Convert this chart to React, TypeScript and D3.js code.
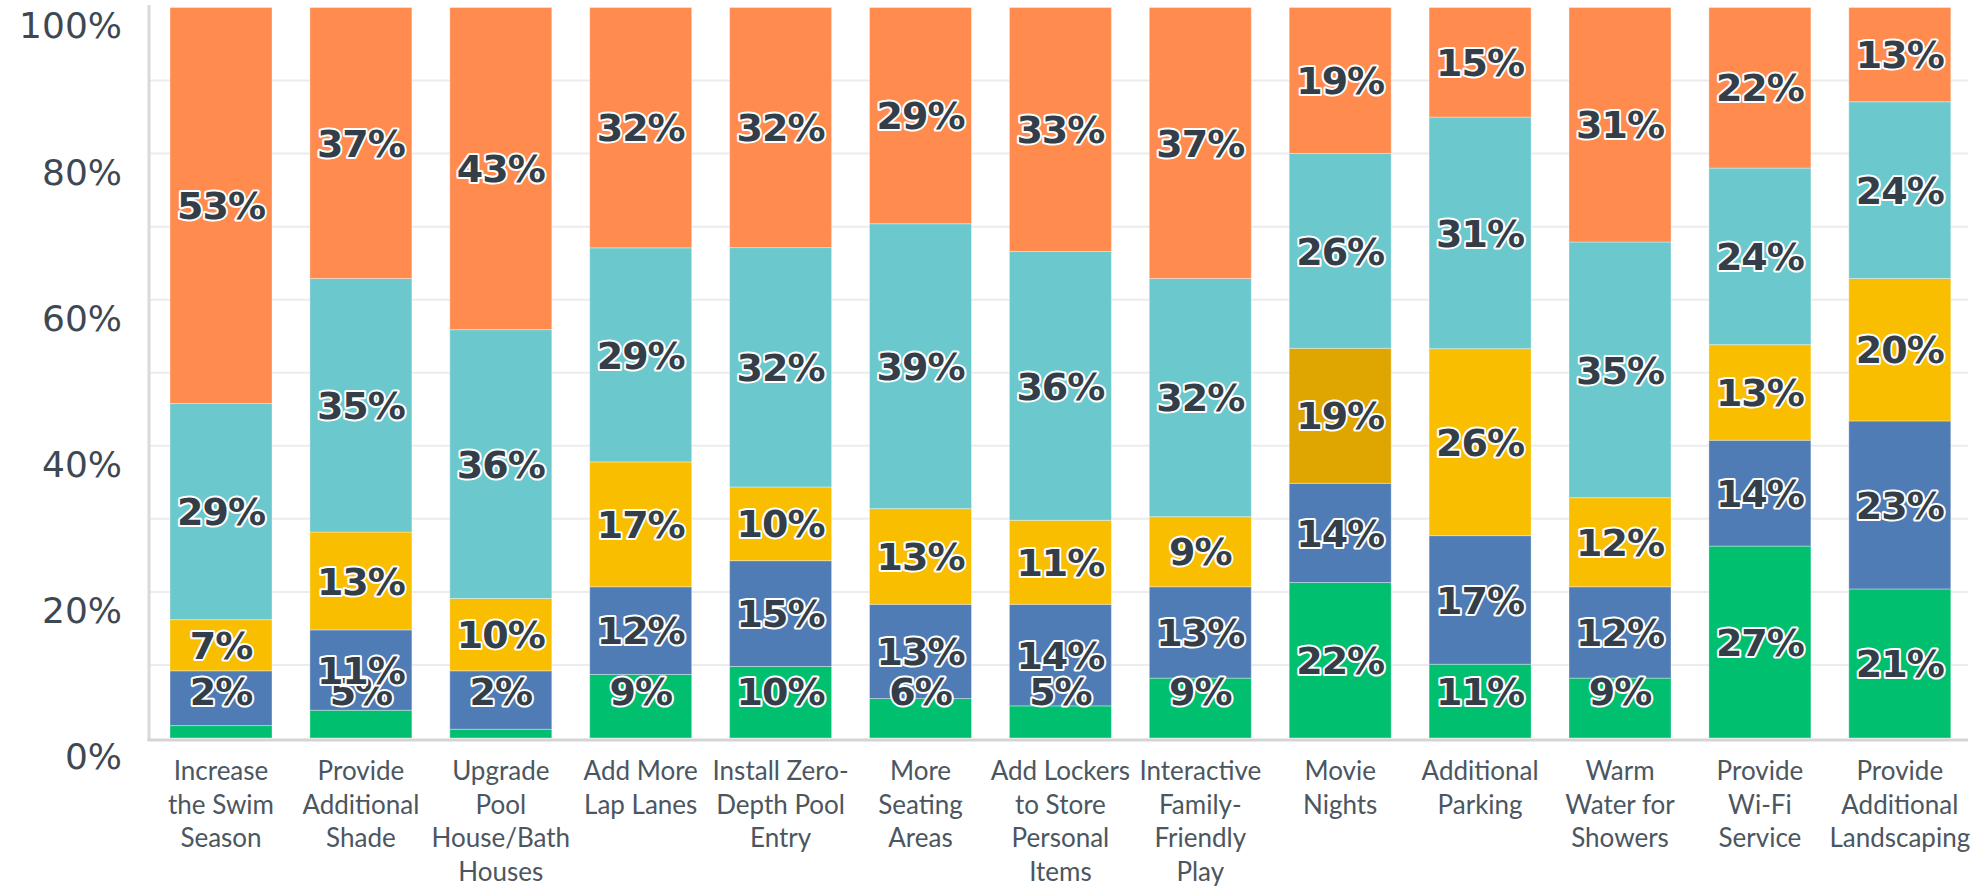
import React from "react";
import * as d3 from "d3";

const categories: string[] = [
  "Increase\nthe Swim\nSeason",
  "Provide\nAdditional\nShade",
  "Upgrade\nPool\nHouse/Bath\nHouses",
  "Add More\nLap Lanes",
  "Install Zero-\nDepth Pool\nEntry",
  "More\nSeating\nAreas",
  "Add Lockers\nto Store\nPersonal\nItems",
  "Interactive\nFamily-\nFriendly\nPlay",
  "Movie\nNights",
  "Additional\nParking",
  "Warm\nWater for\nShowers",
  "Provide\nWi-Fi\nService",
  "Provide\nAdditional\nLandscaping",
];

// shares (bottom to top of each stack)
const greenValues = [1.7, 3.8, 1.2, 8.7, 9.8, 5.4, 4.4, 8.2, 21.3, 10.1, 8.2, 26.3, 20.4];
const blueValues = [7.5, 11.0, 8.0, 12.0, 14.5, 12.9, 13.9, 12.5, 13.6, 17.6, 12.5, 14.5, 23.0];
const yellowValues = [7.0, 13.4, 9.9, 17.1, 10.1, 13.1, 11.5, 9.6, 18.5, 25.6, 12.2, 13.1, 19.5];
const tealValues = [29.6, 34.7, 36.8, 29.3, 32.8, 39.0, 36.8, 32.6, 26.7, 31.7, 35.0, 24.2, 24.2];
const orangeValues = [54.2, 37.1, 44.1, 32.9, 32.9, 29.6, 33.4, 37.1, 20.0, 15.0, 32.1, 22.0, 12.9];

// displayed data labels (null = hidden)
const greenLabels = [2, 5, 2, 9, 10, 6, 5, 9, 22, 11, 9, 27, 21];
const blueLabels = [null, 11, null, 12, 15, 13, 14, 13, 14, 17, 12, 14, 23];
const yellowLabels = [7, 13, 10, 17, 10, 13, 11, 9, 19, 26, 12, 13, 20];
const tealLabels = [29, 35, 36, 29, 32, 39, 36, 32, 26, 31, 35, 24, 24];
const orangeLabels = [53, 37, 43, 32, 32, 29, 33, 37, 19, 15, 31, 22, 13];

const yTicks = [0, 0.2, 0.4, 0.6, 0.8, 1];
const gridTicks = [0.1, 0.2, 0.3, 0.4, 0.5, 0.6, 0.7, 0.8, 0.9];

const seriesKeys = ["green", "blue", "yellow", "teal", "orange"];
const seriesValues: Record<string, number[]> = {
  green: greenValues,
  blue: blueValues,
  yellow: yellowValues,
  teal: tealValues,
  orange: orangeValues,
};
const seriesLabels: Record<string, (number | null)[]> = {
  green: greenLabels,
  blue: blueLabels,
  yellow: yellowLabels,
  teal: tealLabels,
  orange: orangeLabels,
};
const colors: Record<string, string> = {
  green: "#00bf6f",
  blue: "#507cb6",
  yellow: "#f9be00",
  teal: "#6bc8cd",
  orange: "#ff8b4f",
};
const highlight = { key: "yellow", index: 8, color: "#dfa500" };

const W = 1987;
const H = 886;

export default function App() {
  const rows = categories.map((c, i) => {
    const r: any = { category: c };
    seriesKeys.forEach((k) => (r[k] = seriesValues[k][i]));
    return r;
  });
  const stacked = d3.stack<any>().keys(seriesKeys).offset(d3.stackOffsetExpand)(rows);

  const x = d3
    .scaleBand<string>()
    .domain(categories)
    .range([150, 1970.8])
    .paddingInner(0.271)
    .paddingOuter(0.143);
  const y = d3.scaleLinear().domain([0, 1]).range([738, 7.5]);

  const labelFont = "'DejaVu Sans', sans-serif";
  const maxLabelY = y(0) - 47;

  return (
    <svg
      width={W}
      height={H}
      style={{ position: "absolute", left: 0, top: 0, display: "block", background: "#fff" }}
    >
      {gridTicks.map((t) => (
        <line key={t} x1={150} x2={1968} y1={y(t)} y2={y(t)} stroke="#ececec" strokeWidth={2} />
      ))}
      {stacked.map((layer) => (
        <g key={layer.key}>
          {layer.map((d, i) => {
            const cat = categories[i];
            const fill =
              layer.key === highlight.key && i === highlight.index ? highlight.color : colors[layer.key];
            return (
              <rect
                key={cat}
                x={x(cat)}
                y={y(d[1])}
                width={x.bandwidth()}
                height={y(d[0]) - y(d[1])}
                fill={fill}
                stroke="#ffffff"
                strokeOpacity={0.35}
                strokeWidth={1}
              />
            );
          })}
        </g>
      ))}
      <line x1={149} x2={149} y1={5} y2={741} stroke="#d9d9d9" strokeWidth={3} />
      <line x1={147.5} x2={1968} y1={740} y2={740} stroke="#d4d4d4" strokeWidth={3} />
      {stacked.map((layer) => (
        <g key={"lab-" + layer.key}>
          {layer.map((d, i) => {
            const lab = seriesLabels[layer.key][i];
            if (lab === null) return null;
            const cat = categories[i];
            const cy = Math.min((y(d[0]) + y(d[1])) / 2, maxLabelY);
            return (
              <text
                key={cat}
                x={(x(cat) as number) + x.bandwidth() / 2}
                y={cy}
                dy="0.36em"
                textAnchor="middle"
                fontFamily={labelFont}
                fontWeight={700}
                fontSize={38}
                fill="#333e48"
                stroke="#ffffff"
                strokeWidth={4}
                strokeLinejoin="round"
                paintOrder="stroke"
                letterSpacing={-1}
              >
                {lab + "%"}
              </text>
            );
          })}
        </g>
      ))}
      {yTicks.map((t) => (
        <text
          key={t}
          x={122}
          y={y(t) + 18}
          dy="0.36em"
          textAnchor="end"
          fontFamily={labelFont}
          fontSize={36}
          fill="#3d4852"
        >
          {d3.format(".0%")(t)}
        </text>
      ))}
      {categories.map((c) => (
        <text
          key={c}
          x={(x(c) as number) + x.bandwidth() / 2}
          y={780}
          textAnchor="middle"
          fontFamily="Lato, sans-serif"
          fontSize={26}
          fill="#4b5661"
        >
          {c.split("\n").map((line, j) => (
            <tspan key={j} x={(x(c) as number) + x.bandwidth() / 2} dy={j === 0 ? 0 : 33.5}>
              {line}
            </tspan>
          ))}
        </text>
      ))}
    </svg>
  );
}
